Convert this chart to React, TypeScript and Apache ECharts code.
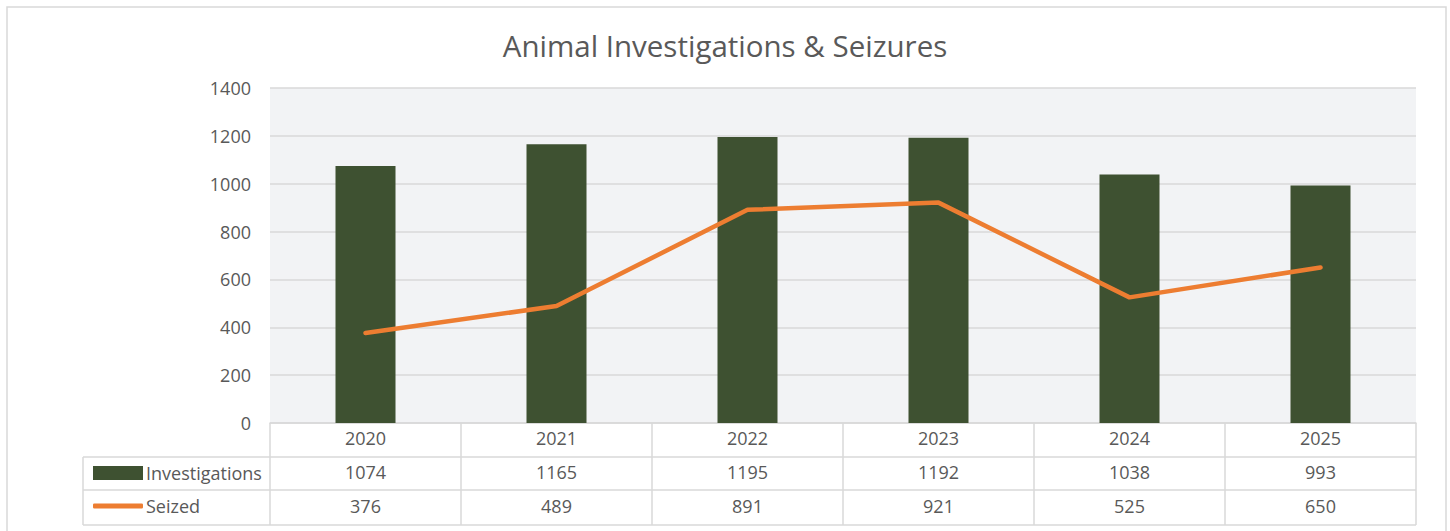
import React, { useEffect, useRef } from "react";
import * as echarts from "echarts";

const years = ["2020", "2021", "2022", "2023", "2024", "2025"];
const investigations = [1074, 1165, 1195, 1192, 1038, 993];
const seized = [376, 489, 891, 921, 525, 650];
const seriesNames = ["Investigations", "Seized"];

const FONT = "'Open Sans', Lato, sans-serif";
const TXT = "#595959";
const GRIDC = "#d9d9d9";
const FS = 18;

export default function App() {
  const ref = useRef<HTMLDivElement>(null);
  useEffect(() => {
    if (!ref.current) return;
    const chart = echarts.init(ref.current, undefined, { renderer: "svg" });
    const L = 270, R = 1416, T = 88, B = 423;
    const tableLeft = 83;
    const rows = [457, 490, 525];
    const legendText = { fontFamily: FONT, fontSize: FS, color: TXT, padding: [0, 0, 0, -2] };
    chart.setOption({
      animation: false,
      textStyle: { fontFamily: FONT },
      title: {
        text: "Animal Investigations & Seizures",
        left: "center",
        top: 25,
        textStyle: { fontFamily: FONT, fontSize: 29.5, fontWeight: "normal", color: TXT },
      },
      grid: {
        left: L,
        right: 1450 - R,
        top: T,
        bottom: 531 - B,
        show: true,
        backgroundColor: "#f2f3f5",
        borderWidth: 0,
      },
      legend: [
        {
          orient: "vertical",
          left: 88,
          top: 459,
          itemWidth: 50,
          itemHeight: 14,
          data: [{ name: seriesNames[0], icon: "rect" }],
          textStyle: legendText,
        },
        {
          orient: "vertical",
          left: 88,
          top: 492,
          itemWidth: 50,
          itemHeight: 5,
          data: [{ name: seriesNames[1], icon: "roundRect" }],
          itemStyle: { color: "#ed7d31" },
          textStyle: legendText,
        },
      ],
      xAxis: [
        {
          type: "category",
          data: years,
          position: "bottom",
          axisLine: { show: true, lineStyle: { color: GRIDC, width: 1.5 } },
          axisTick: { show: true, length: 102, lineStyle: { color: GRIDC, width: 1.5 } },
          axisLabel: { fontFamily: FONT, fontSize: FS, color: TXT, margin: 6 },
        },
        {
          type: "category",
          data: investigations.map(String),
          position: "bottom",
          offset: 34,
          axisLine: { show: false },
          axisTick: { show: false },
          axisLabel: { fontFamily: FONT, fontSize: FS, color: TXT, margin: 6 },
        },
        {
          type: "category",
          data: seized.map(String),
          position: "bottom",
          offset: 68,
          axisLine: { show: false },
          axisTick: { show: false },
          axisLabel: { fontFamily: FONT, fontSize: FS, color: TXT, margin: 6 },
        },
      ],
      yAxis: {
        type: "value",
        min: 0,
        max: 1400,
        interval: 200,
        axisLine: { show: false },
        axisTick: { show: false },
        splitLine: { lineStyle: { color: GRIDC, width: 1.5 } },
        axisLabel: {
          fontFamily: FONT,
          fontSize: FS,
          color: TXT,
          margin: 19,
          formatter: (v: number) => String(v),
        },
      },
      series: [
        {
          name: seriesNames[0],
          type: "bar",
          data: investigations,
          barWidth: 60,
          itemStyle: { color: "#3e5131" },
        },
        {
          name: seriesNames[1],
          type: "line",
          data: seized,
          symbol: "none",
          lineStyle: { color: "#ed7d31", width: 4.5, cap: "round" },
          itemStyle: { color: "#ed7d31" },
          z: 5,
        },
      ],
      graphic: [
        {
          type: "rect",
          shape: { x: 7, y: 7, width: 1439, height: 540 },
          style: { fill: "none", stroke: GRIDC, lineWidth: 1.5 },
          silent: true,
        },
        ...rows.map((y) => ({
          type: "line",
          shape: { x1: tableLeft, y1: y, x2: R, y2: y },
          style: { stroke: GRIDC, lineWidth: 1.5 },
          silent: true,
        })),
        {
          type: "line",
          shape: { x1: tableLeft, y1: rows[0], x2: tableLeft, y2: rows[2] },
          style: { stroke: GRIDC, lineWidth: 1.5 },
          silent: true,
        },
      ],
    });
    return () => chart.dispose();
  }, []);
  return (
    <div
      ref={ref}
      style={{ position: "absolute", left: 0, top: 0, width: 1450, height: 531, background: "#fff" }}
    />
  );
}
